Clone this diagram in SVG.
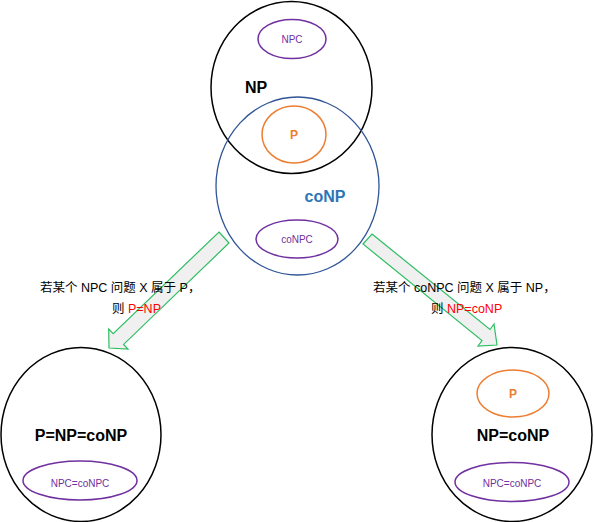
<svg xmlns="http://www.w3.org/2000/svg" width="594" height="522" viewBox="0 0 594 522">
<style>
.big{fill:none;stroke:#000;stroke-width:1.5}
.blue{fill:none;stroke:#2F5597;stroke-width:1.3}
.org{fill:none;stroke:#ED7D31;stroke-width:1.5}
.pur{fill:none;stroke:#7030A0;stroke-width:1.5}
.arr{fill:#F0F0F0;stroke:#2DBE62;stroke-width:1.2;stroke-linejoin:miter}
.bl{font-family:"Liberation Sans",Arial,sans-serif;font-weight:bold;text-anchor:middle}
.sm{font-family:"Liberation Sans",Arial,sans-serif;font-size:10px;fill:#7030A0;text-anchor:middle}
.cn{font-family:"Liberation Sans","Noto Sans CJK SC",sans-serif;font-size:12.5px;fill:#000}
.red{fill:#FF0000}
</style>
<g id="connectors">
<polygon class="arr" points="219,232 229,243 123.6,344.4 128,349 109,348 108.7,329 113.2,333.6"/>
<polygon class="arr" points="372,234 490,329.5 494,324 497,345 478,346 482,340.5 363,244"/>
</g>
<g id="np">
<ellipse class="big" cx="291.5" cy="87.5" rx="80.5" ry="86"/>
<text class="bl" x="256" y="93" font-size="16">NP</text>
</g>
<g id="conp">
<ellipse class="blue" cx="297.5" cy="186" rx="81.5" ry="89"/>
<text class="bl" x="325" y="202" font-size="16" fill="#2E75B6">coNP</text>
</g>
<g id="npc">
<ellipse class="pur" cx="292" cy="39" rx="34" ry="19.5"/>
<text class="sm" x="292" y="43">NPC</text>
</g>
<g id="p">
<ellipse class="org" cx="294" cy="134.5" rx="32" ry="28.5"/>
<text class="bl" x="294" y="139" font-size="12" fill="#ED7D31">P</text>
</g>
<g id="conpc">
<ellipse class="pur" cx="297" cy="239" rx="41" ry="19"/>
<text class="sm" x="297" y="243">coNPC</text>
</g>
<g id="label-left">
<text class="cn" x="40" y="292">若某个 NPC 问题 X 属于 P，</text>
<text class="cn" x="112" y="313">则 <tspan class="red">P=NP</tspan></text>
</g>
<g id="label-right">
<text class="cn" x="373" y="292">若某个 coNPC 问题 X 属于 NP，</text>
<text class="cn" x="431" y="313">则 <tspan class="red">NP=coNP</tspan></text>
</g>
<g id="left-world">
<ellipse class="big" cx="81" cy="434.5" rx="80" ry="87"/>
<text class="bl" x="81" y="441" font-size="16">P=NP=coNP</text>
<ellipse class="pur" cx="80" cy="480.5" rx="57" ry="19.5"/>
<text class="sm" x="80" y="487">NPC=coNPC</text>
</g>
<g id="right-world">
<ellipse class="big" cx="512" cy="434.5" rx="80" ry="87"/>
<ellipse class="org" cx="513" cy="393.5" rx="36" ry="23.5"/>
<text class="bl" x="513" y="398" font-size="12" fill="#ED7D31">P</text>
<text class="bl" x="513" y="441" font-size="16">NP=coNP</text>
<ellipse class="pur" cx="512" cy="482" rx="57" ry="19.5"/>
<text class="sm" x="512" y="487">NPC=coNPC</text>
</g>
</svg>
